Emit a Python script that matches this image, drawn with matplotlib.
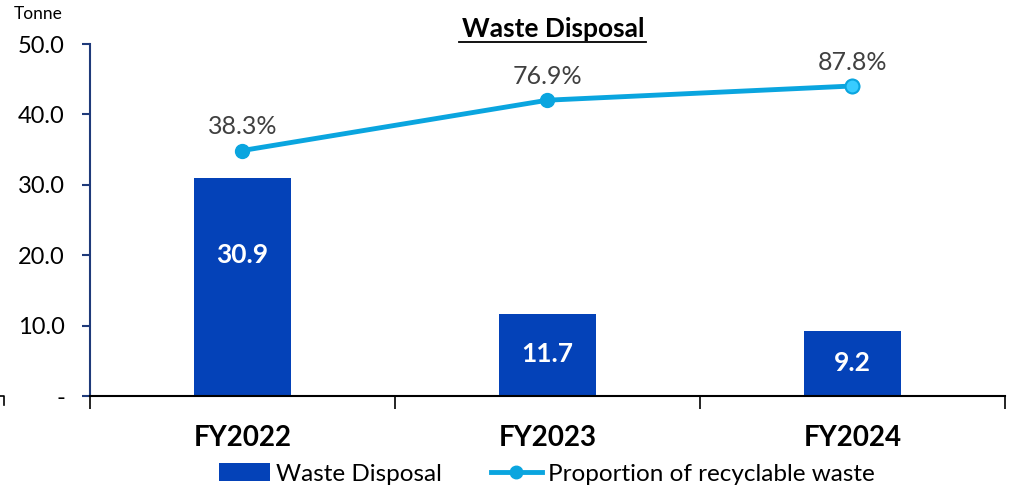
import matplotlib.pyplot as plt
from matplotlib.lines import Line2D
from matplotlib.patches import Patch

plt.rcParams['font.family'] = ['Lato', 'DejaVu Sans']

# data
years = ['FY2022', 'FY2023', 'FY2024']
waste = [30.9, 11.7, 9.2]
recyclable_pct = [38.3, 76.9, 87.8]
yticks = [0, 10, 20, 30, 40, 50]

bar_color = '#0442B8'
line_color = '#0AA5DF'
navy = '#1F3A7A'

fig = plt.figure(figsize=(10.09, 4.9), dpi=100)
ax = fig.add_axes([90 / 1009, 94 / 490, 915 / 1009, 352 / 490])

x = list(range(len(years)))
ax.bar(x, waste, width=0.315, color=bar_color, zorder=2)
ax.set_xlim(-0.5, len(years) - 0.5)
ax.set_ylim(0, 50)

# bar value labels
label_y = [20.0, 5.9, 4.7]
for xi, v, ly in zip(x, waste, label_y):
    ax.text(xi, ly, f'{v:.1f}', ha='center', va='center', color='white',
            fontsize=19, fontweight='bold')

ax.set_yticks(yticks)
ax.set_yticklabels(['-' if t == 0 else f'{t:.1f}' for t in yticks], fontsize=17)
ax.tick_params(axis='y', length=6, width=1.5, color=navy, pad=12)
ax.spines['left'].set_color(navy)
ax.spines['left'].set_linewidth(1.5)
ax.spines['top'].set_visible(False)
ax.spines['right'].set_visible(False)
ax.spines['bottom'].set_linewidth(1.5)

# x ticks at category boundaries, labels in the middle
ax.set_xticks([-0.5, 0.5, 1.5, 2.5])
ax.set_xticklabels([])
ax.tick_params(axis='x', length=9, width=1.2, direction='out')
for xi, yr in zip(x, years):
    ax.text(xi, -0.118, yr, transform=ax.get_xaxis_transform(), ha='center', va='center',
            fontsize=20, fontweight='bold')

ax.text(-0.083, 1.085, 'Tonne', transform=ax.transAxes, ha='left', va='center', fontsize=12.5)

# line on hidden secondary axis
ax2 = ax.twinx()
ax2.set_ylim(-150, 120)
ax2.axis('off')
ax2.plot(x, recyclable_pct, color=line_color, lw=3.5, marker='o', markersize=10,
         markerfacecolor=line_color, markeredgecolor=line_color, zorder=3)
ax2.plot(x[-1], recyclable_pct[-1], 'o', markersize=10, markerfacecolor='#38CCFF',
         markeredgecolor=line_color, markeredgewidth=1.5, zorder=4)
for xi, p in zip(x, recyclable_pct):
    ax2.annotate(f'{p:.1f}%', (xi, p), xytext=(0, 17), textcoords='offset points',
                 ha='center', va='center', fontsize=18, color='#404040')

# title
fig.text(553 / 1009, 1 - 29 / 490, 'Waste Disposal', ha='center', va='center',
         fontsize=19, fontweight='bold')
fig.add_artist(Line2D([459 / 1009, 646 / 1009], [1 - 42 / 490, 1 - 42 / 490],
                      color='black', lw=1.3))

# small cut-off mark at left edge
fig.add_artist(Line2D([0, 4 / 1009, 4 / 1009],
                      [1 - 396 / 490, 1 - 396 / 490, 1 - 405 / 490], color='black', lw=1.2))

handles = [Patch(facecolor=bar_color, label='Waste Disposal'),
           Line2D([0], [0], color=line_color, lw=3.5, marker='o', markersize=9,
                  label='Proportion of recyclable waste')]
fig.legend(handles=handles, loc='center', bbox_to_anchor=(547 / 1009, 1 - 474 / 490),
           ncol=2, frameon=False, fontsize=17.5, handlelength=2.1, columnspacing=2.0,
           handletextpad=0.25, borderpad=0.1)

plt.savefig('out.png', dpi=100)
